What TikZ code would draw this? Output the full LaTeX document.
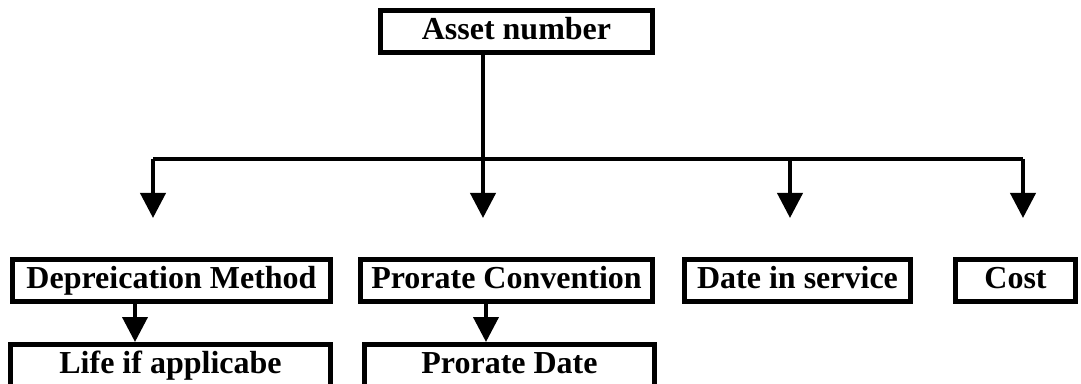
\documentclass[tikz,border=0pt]{standalone}
\usepackage{fontspec}
\setmainfont{Liberation Serif}
\usetikzlibrary{arrows.meta}

\begin{document}
\begin{tikzpicture}[x=1pt,y=1pt,
	box/.style={draw,line width=5pt,inner sep=0pt,minimum height=42pt,text height=22pt,text depth=7pt,font=\fontsize{32}{32}\selectfont\bfseries},
	conn/.style={line width=4pt},
	arr/.style={conn,-{Triangle[width=25pt,length=25pt]}}]
	\useasboundingbox (0,0) rectangle (1081,383);
	\clip (0,0) rectangle (1081,383);
	\node [box,minimum width=272pt] at (516.5,351) (asset) {Asset number};
	\node [box,minimum width=318pt] at (171.5,102.5) (dep) {Depreication Method};
	\node [box,minimum width=292pt] at (506.5,102.5) (conv) {Prorate Convention};
	\node [box,minimum width=226pt] at (797.5,102.5) (serv) {Date in service};
	\node [box,minimum width=120pt] at (1015.5,102.5) (cost) {Cost};
	\node [box,minimum width=320pt] at (170.5,17.5) (life) {Life if applicabe};
	\node [box,minimum width=290pt] at (509.5,17.5) (pdate) {Prorate Date};
	\foreach \n/\x in {1/153,2/483,3/790,4/1023}{
		\coordinate (b\n) at (\x,224);
		\coordinate (e\n) at (\x,165);
		\draw [arr] (b\n) -- (e\n);
	}
	\draw [conn] (asset.south -| b2) -- (b2) (b1) -- (b4);
	\coordinate (d1) at (135,0); \coordinate (d2) at (486,0);
	\draw [arr] (dep.south -| d1) -- (life.north -| d1);
	\draw [arr] (conv.south -| d2) -- (pdate.north -| d2);
\end{tikzpicture}
\end{document}
